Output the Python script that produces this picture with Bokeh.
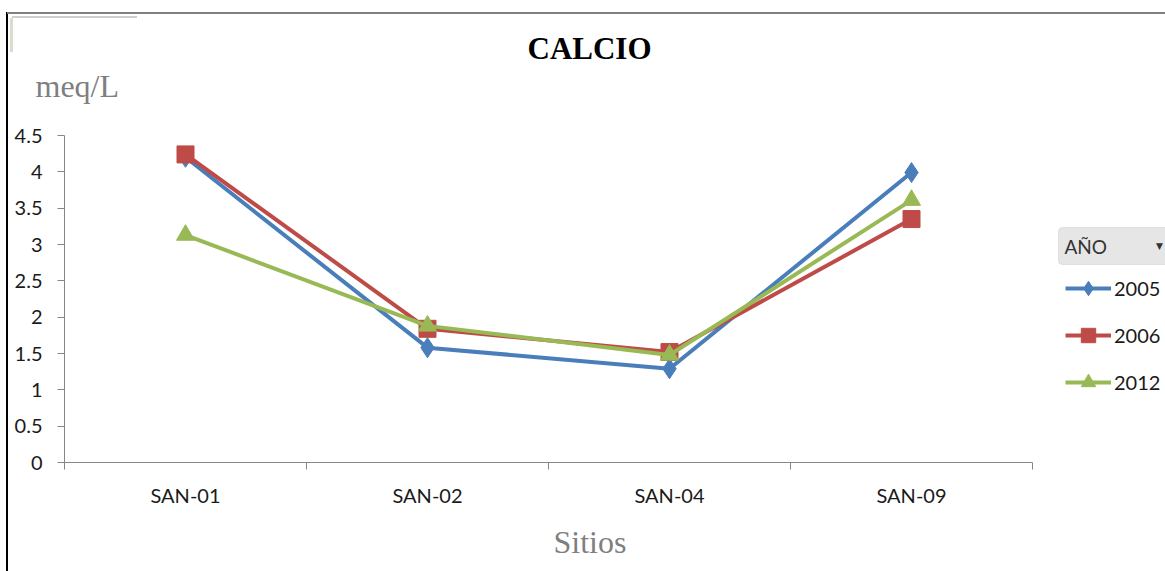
from bokeh.plotting import figure
from bokeh.models import (Range1d, FixedTicker, LinearAxis, Legend, LegendItem, Label,
                          BoxAnnotation, NumeralTickFormatter, Title)
from bokeh.embed import file_html
from bokeh.resources import INLINE

sites = ["SAN-01", "SAN-02", "SAN-04", "SAN-09"]
years = ["2005", "2006", "2012"]
v2005 = [4.20, 1.58, 1.29, 3.99]
v2006 = [4.24, 1.84, 1.52, 3.35]
v2012 = [3.13, 1.88, 1.48, 3.61]
y_ticks = [0, 0.5, 1, 1.5, 2, 2.5, 3, 3.5, 4, 4.5]
y_max = 4.5

series = [v2005, v2006, v2012]
colors = ["#4A7EBB", "#BE4B48", "#98B954"]
markers = ["diamond", "square", "triangle"]
msizes = [20, 17, 18]

W, H = 1165, 571
FL, FT, FB = 64, 135, 463   # frame left / top / bottom on the canvas
AX_R = 1032                  # right end of the category axis
x_end = len(sites) * (W - FL) / (AX_R - FL)

p = figure(width=W, height=H, output_backend="svg", toolbar_location=None,
           x_range=Range1d(0, x_end), y_range=Range1d(0, y_max),
           x_axis_type=None, y_axis_type=None,
           min_border_left=FL, min_border_right=0, min_border_top=FT,
           min_border_bottom=H - FB)
p.outline_line_color = None
p.background_fill_color = None
p.border_fill_color = None
# decorative chart-area border lines (top grey, left black) and the faint field-button tab
p.styles = {
    "background": ("linear-gradient(#7f7f7f,#7f7f7f) 7px 12px / 1158px 2px no-repeat, "
                   "linear-gradient(#000,#000) 6px 12px / 2px 559px no-repeat, "
                   "linear-gradient(#cfcfcf,#cfcfcf) 12px 16px / 125px 2px no-repeat, "
                   "linear-gradient(#dcdccc,#dcdccc) 10px 18px / 3px 34px no-repeat, "
                   "white"),
}

xc = [i + 0.5 for i in range(len(sites))]

# axes
xaxis = LinearAxis(ticker=FixedTicker(ticks=xc, minor_ticks=list(range(len(sites) + 1))),
                   bounds=(0, len(sites)))
xaxis.major_label_overrides = {x: s for x, s in zip(xc, sites)}
xaxis.major_tick_out = 0
xaxis.major_tick_in = 0
xaxis.minor_tick_out = 7
xaxis.minor_tick_in = 0
xaxis.minor_tick_line_color = "#868686"
xaxis.axis_line_color = "#868686"
xaxis.major_label_text_font = "Lato"
xaxis.major_label_text_font_size = "20px"
xaxis.major_label_text_color = "#1a1a1a"
xaxis.major_label_standoff = 13
p.add_layout(xaxis, "below")

yaxis = LinearAxis(ticker=FixedTicker(ticks=y_ticks, minor_ticks=[]))
yaxis.formatter = NumeralTickFormatter(format="0.[0]")
yaxis.major_tick_out = 7
yaxis.major_tick_in = 0
yaxis.major_tick_line_color = "#868686"
yaxis.axis_line_color = "#868686"
yaxis.major_label_text_font = "Lato"
yaxis.major_label_text_font_size = "20px"
yaxis.major_label_text_color = "#1a1a1a"
yaxis.major_label_standoff = 15
p.add_layout(yaxis, "left")

p.xgrid.visible = False
p.ygrid.ticker = FixedTicker(ticks=y_ticks)
p.ygrid.cross_bounds = (0, len(sites))
p.ygrid.grid_line_color = "#8f8f8f"
p.ygrid.grid_line_width = 1

items = []
for yr, vals, c, m, s in zip(years, series, colors, markers, msizes):
    lr = p.line(xc, vals, line_color=c, line_width=4)
    sr = p.scatter(xc, vals, marker=m, size=s, fill_color=c, line_color=c)
    items.append(LegendItem(label=yr, renderers=[lr, sr]))

legend = Legend(items=items, location=(1065 - FL, FB - 401), orientation="vertical")
legend.glyph_width = 46
legend.glyph_height = 36
legend.label_height = 20
legend.spacing = 11
legend.padding = 5
legend.margin = 0
legend.label_standoff = 3
legend.label_text_font = "Lato"
legend.label_text_font_size = "20px"
legend.label_text_color = "#1a1a1a"
legend.border_line_color = None
legend.background_fill_alpha = 0
p.add_layout(legend, "center")

# "AÑO" filter box
p.add_layout(BoxAnnotation(left=1058 - FL, right=W - FL + 6, top=FB - 228, bottom=FB - 265,
                           left_units="screen", right_units="screen", top_units="screen",
                           bottom_units="screen", fill_color="#e6e6e6", fill_alpha=1,
                           line_color="#b5b5b5", line_width=1, border_radius=4))
p.add_layout(Label(x=1064 - FL, y=FB - 247, x_units="screen", y_units="screen", text="AÑO",
                   text_font="Lato", text_font_size="19px",
                   text_align="left", text_baseline="middle", text_color="#333333"))
p.add_layout(Label(x=1159 - FL, y=FB - 246, x_units="screen", y_units="screen", text="▼",
                   text_font="DejaVu Sans", text_font_size="9px",
                   text_align="center", text_baseline="middle", text_color="#333333"))

# blank spacer axis between the plot area and the unit label (one unlabelled, unstroked tick)
spacer = LinearAxis(ticker=FixedTicker(ticks=[xc[0]], minor_ticks=[]))
spacer.major_label_overrides = {xc[0]: ""}
spacer.axis_line_color = None
spacer.major_tick_line_color = None
spacer.minor_tick_line_color = None
spacer.major_tick_out = 32
spacer.major_tick_in = 0
spacer.minor_tick_out = 0
spacer.major_label_standoff = 0
p.add_layout(spacer, "above")

# titles
t_unit = Title(text="meq/L", align="left", offset=35 - FL, text_font="Liberation Serif",
               text_font_size="32px", text_font_style="normal", text_color="#7f7f7f",
               standoff=0)
t_main = Title(text="CALCIO", align="left", offset=527 - FL, text_font="Liberation Serif",
               text_font_size="31px", text_font_style="bold", text_color="black",
               standoff=0)
p.add_layout(t_unit, "above")
p.add_layout(t_main, "above")

t_x = Title(text="Sitios", align="left", offset=553 - FL, text_font="Liberation Serif",
            text_font_size="32px", text_font_style="normal", text_color="#7f7f7f",
            standoff=24)
p.add_layout(t_x, "below")

open("out.html", "w").write(file_html(p, INLINE))
